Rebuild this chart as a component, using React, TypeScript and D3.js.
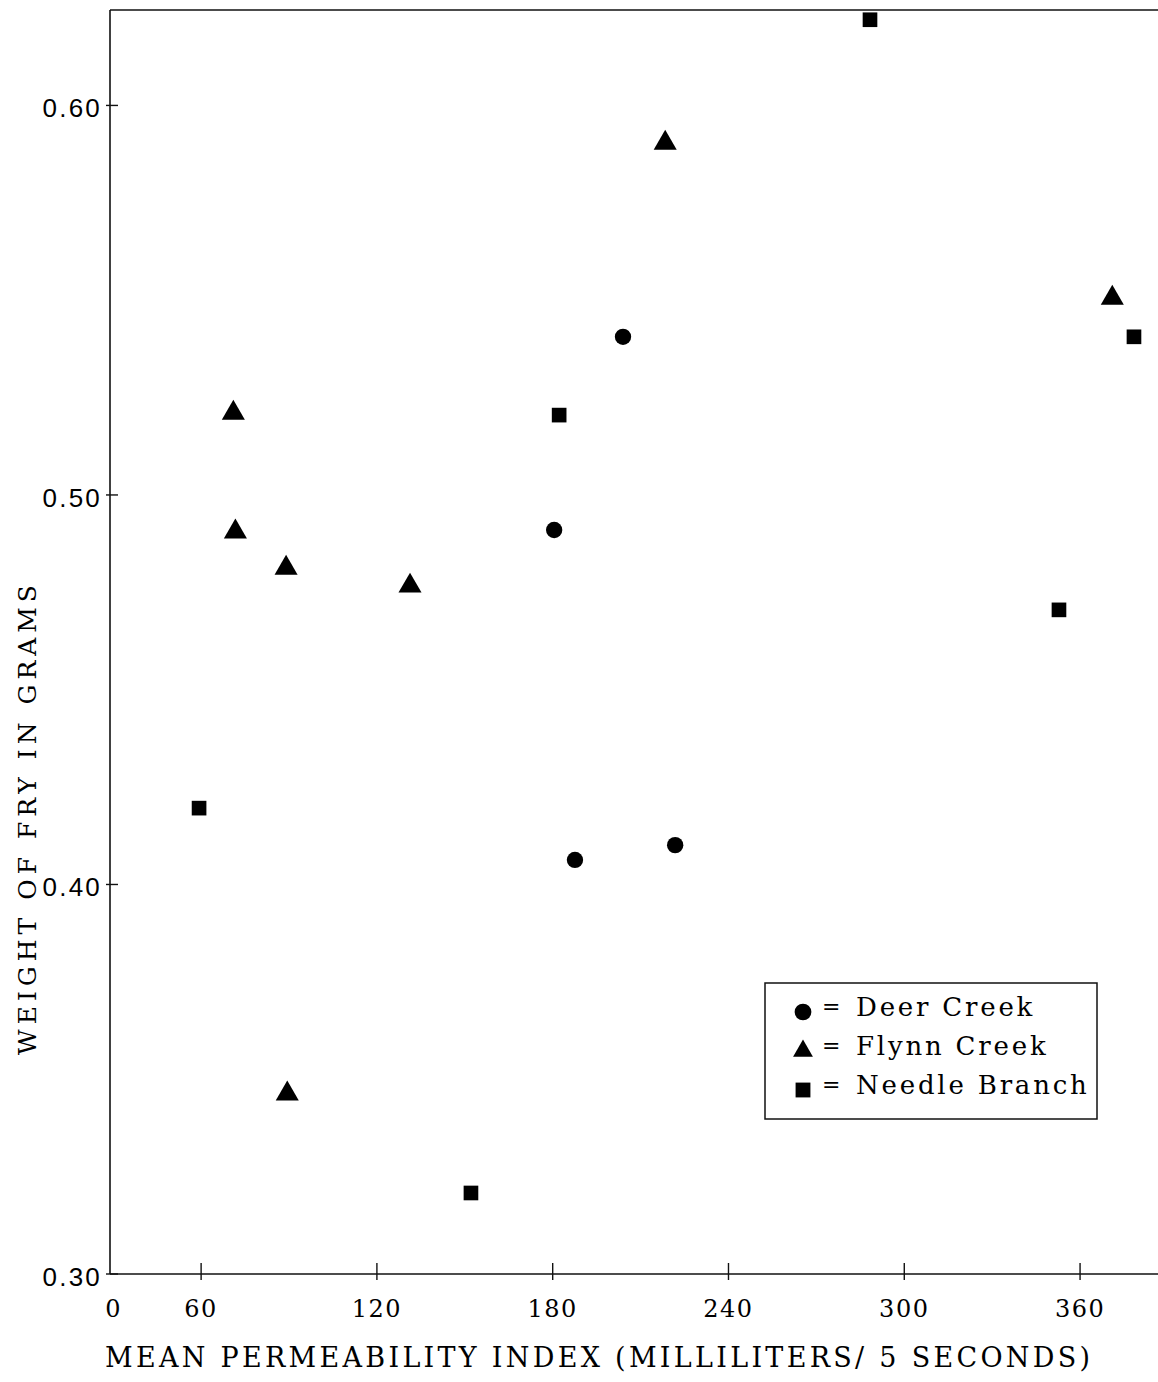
import * as d3 from "d3";
import { useEffect, useRef } from "react";

// x = mean permeability index, y = weight of fry (g)
const deerX = [180.5, 204, 187.6, 221.8];
const deerY = [0.491, 0.5406, 0.4063, 0.4101];

const flynnX = [71, 71.7, 89, 131.3, 89.4, 218.4, 371];
const flynnY = [0.5213, 0.4908, 0.4815, 0.4769, 0.3465, 0.5906, 0.5508];

const needleX = [59.3, 182.2, 152.1, 288.3, 352.8, 378.4];
const needleY = [0.4196, 0.5205, 0.3208, 0.622, 0.4705, 0.5406];

const xTicks = [60, 120, 180, 240, 300, 360];
const yTicks = [0.3, 0.4, 0.5, 0.6];
const legendLabels = ["Deer Creek", "Flynn Creek", "Needle Branch"];

const W = 1158;
const H = 1382;
const SERIF = "'DejaVu Serif', serif";
const SANS = "'Liberation Sans', sans-serif";

export default function App() {
  const ref = useRef<SVGSVGElement | null>(null);

  useEffect(() => {
    if (!ref.current) return;
    const svg = d3.select(ref.current);
    svg.selectAll("*").remove();

    const g = svg.append("g");

    const left = 110;
    const right = 1158;
    const top = 10;
    const bottom = 1274;

    const x = d3.scaleLinear().domain([28.9, 386.6]).range([left, right]);
    const y = d3.scaleLinear().domain([0.3, 0.6245]).range([bottom, top]);

    // frame: left axis, bottom axis, top line
    g.append("line")
      .attr("x1", left).attr("x2", left).attr("y1", top).attr("y2", bottom)
      .attr("stroke", "#111").attr("stroke-width", 1.6);
    g.append("line")
      .attr("x1", left).attr("x2", right).attr("y1", bottom).attr("y2", bottom)
      .attr("stroke", "#111").attr("stroke-width", 1.6);
    g.append("line")
      .attr("x1", left).attr("x2", right).attr("y1", top).attr("y2", top)
      .attr("stroke", "#111").attr("stroke-width", 1.6);

    // x ticks (crossing the axis)
    g.selectAll("line.xt")
      .data(xTicks)
      .enter()
      .append("line")
      .attr("class", "xt")
      .attr("x1", (d) => x(d)).attr("x2", (d) => x(d))
      .attr("y1", bottom - 11).attr("y2", bottom + 6)
      .attr("stroke", "#111").attr("stroke-width", 1.4);

    g.selectAll("text.xl")
      .data(xTicks)
      .enter()
      .append("text")
      .attr("class", "xl")
      .attr("x", (d) => x(d))
      .attr("y", bottom + 43)
      .attr("text-anchor", "middle")
      .style("font-family", SERIF)
      .style("font-size", "24px")
      .style("letter-spacing", "1.5px")
      .text((d) => d);

    g.append("text")
      .attr("x", left + 3)
      .attr("y", bottom + 43)
      .attr("text-anchor", "middle")
      .style("font-family", SERIF)
      .style("font-size", "24px")
      .text("0");

    // y ticks
    g.selectAll("line.yt")
      .data(yTicks)
      .enter()
      .append("line")
      .attr("class", "yt")
      .attr("x1", left - 4).attr("x2", left + 8)
      .attr("y1", (d) => y(d)).attr("y2", (d) => y(d))
      .attr("stroke", "#111").attr("stroke-width", 1.4);

    g.selectAll("text.yl")
      .data(yTicks)
      .enter()
      .append("text")
      .attr("class", "yl")
      .attr("x", left - 8)
      .attr("y", (d) => y(d) + 12)
      .attr("text-anchor", "end")
      .style("font-family", SANS)
      .style("font-size", "26px")
      .style("letter-spacing", "2.2px")
      .text((d) => d3.format(".2f")(d));

    // axis titles
    g.append("text")
      .attr("x", 105)
      .attr("y", 1367)
      .attr("textLength", 985)
      .attr("lengthAdjust", "spacing")
      .style("font-family", SERIF)
      .style("font-size", "27px")
      .text("MEAN PERMEABILITY INDEX (MILLILITERS/ 5 SECONDS)");

    g.append("text")
      .attr("transform", "translate(36,1055) rotate(-90)")
      .attr("x", 0)
      .attr("y", 0)
      .attr("textLength", 470)
      .attr("lengthAdjust", "spacing")
      .style("font-family", SERIF)
      .style("font-size", "25px")
      .text("WEIGHT OF FRY IN GRAMS");

    const circle = d3.symbol().type(d3.symbolCircle).size(210);
    const tri = d3.symbol().type(d3.symbolTriangle).size(230);
    const sq = d3.symbol().type(d3.symbolSquare).size(215);

    const drawSeries = (xs: number[], ys: number[], gen: any, dy: number) => {
      g.append("g")
        .selectAll("path")
        .data(xs.map((v, i) => [v, ys[i]]))
        .enter()
        .append("path")
        .attr("d", gen)
        .attr("transform", (d) => `translate(${x(d[0])},${y(d[1]) + dy})`)
        .attr("fill", "#000");
    };

    drawSeries(deerX, deerY, circle, 0);
    drawSeries(flynnX, flynnY, tri, 1);
    drawSeries(needleX, needleY, sq, 0);

    // legend
    const lg = g.append("g");
    lg.append("rect")
      .attr("x", 765).attr("y", 983).attr("width", 332).attr("height", 136)
      .attr("fill", "#fff").attr("stroke", "#111").attr("stroke-width", 1.5);
    const legendGens = [
      d3.symbol().type(d3.symbolCircle).size(220),
      d3.symbol().type(d3.symbolTriangle).size(170),
      d3.symbol().type(d3.symbolSquare).size(220),
    ];
    legendLabels.forEach((label, i) => {
      const cy = 1012 + i * 39;
      lg.append("path")
        .attr("d", legendGens[i] as any)
        .attr("transform", `translate(803,${cy})`)
        .attr("fill", "#000");
      lg.append("text")
        .attr("x", 822)
        .attr("y", cy + 2)
        .style("font-family", SERIF)
        .style("font-size", "22px")
        .text("=");
      lg.append("text")
        .attr("x", 856)
        .attr("y", cy + 4)
        .style("font-family", SERIF)
        .style("font-size", "26px")
        .style("letter-spacing", "2.8px")
        .text(label);
    });
  }, []);

  return (
    <svg
      ref={ref}
      width={W}
      height={H}
      style={{ position: "absolute", left: 0, top: 0, display: "block" }}
    />
  );
}
